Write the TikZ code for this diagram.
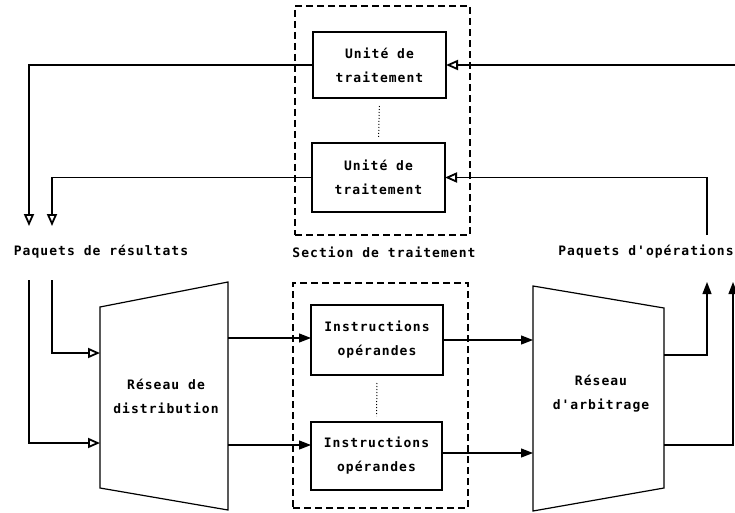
\documentclass[tikz,border=0pt]{standalone}
\usepackage{fontspec}
\newfontfamily\dm[LetterSpace=8]{DejaVu Sans Mono}
\usetikzlibrary{arrows.meta}
\begin{document}
\begin{tikzpicture}[x=1pt,y=-1pt,line width=1.2pt,
  lbl/.style={font=\dm\bfseries\fontsize{13}{24}\selectfont,align=center,inner sep=0pt},
  blk/.style={draw,lbl,outer sep=0pt},
  frame/.style={draw,dash pattern=on 7pt off 4pt,line width=1.1pt,inner sep=0pt,outer sep=0pt},
  hol/.style={-{Triangle[open,length=12pt,width=10pt,line width=1.8pt]}},
  ful/.style={-{Triangle[length=12pt,width=9pt]}},
  dots/.style={dash pattern=on 1pt off 2pt,line width=1pt,shorten >=6pt,shorten <=8pt}]
\useasboundingbox (0,0) rectangle (735,513);
% frames
\node[frame,minimum width=175pt,minimum height=229pt] (secT) at (382.5,120.5) {};
\node[frame,minimum width=175pt,minimum height=225pt] (secB) at (380.5,395.5) {};
% processing units
\node[blk,minimum width=133pt,minimum height=66pt] (u1) at (379.5,65) {Unité de\\traitement};
\node[blk,minimum width=133pt,minimum height=69pt] (u2) at (378.5,177.5) {Unité de\\traitement};
\draw[dots] (u1.south) -- (u2.north);
% instruction boxes
\node[blk,minimum width=132pt,minimum height=70pt] (i1) at (377,340) {Instructions\\opérandes};
\node[blk,minimum width=131pt,minimum height=68pt] (i2) at (376.5,456) {Instructions\\opérandes};
\draw[dots] (i1.south) -- (i2.north);
% labels
\node[lbl] (lres) at (101,252) {Paquets de résultats};
\node[lbl] (lsec) at (384,252) {Section de traitement};
\node[lbl] (lop) at (646,252) {Paquets d'opérations};
% distribution network
\draw (100,307) -- (228,282) -- (228,510) -- (100,488) -- cycle;
\node[lbl] (dist) at (166,396) {Réseau de\\distribution};
% arbitration network
\draw (533,286) -- (664,308) -- (664,488) -- (533,511) -- cycle;
\node[lbl] (arb) at (601,394) {Réseau\\d'arbitrage};
% coordinates
\coordinate (rL1) at (29,226);
\coordinate (rL2) at (52,226);
\coordinate (rS1) at (29,280);
\coordinate (rS2) at (52,280);
\coordinate (d1in) at (100,353);
\coordinate (d2in) at (100,443);
\coordinate (d1out) at (228,338);
\coordinate (d2out) at (228,445);
\coordinate (a1in) at (533,340);
\coordinate (a2in) at (533,453);
\coordinate (a1out) at (664,355);
\coordinate (a2out) at (664,445);
\coordinate (p1) at (707,282);
\coordinate (p2) at (733,282);
\coordinate (q1) at (707,235);
\coordinate (q2) at (736,65);
% connectors
\draw[hol] (u1.west) -| (rL1);
\draw[hol] (u2.west) -| (rL2);
\draw[hol] (rS2) |- (d1in);
\draw[hol] (rS1) |- (d2in);
\draw[ful] (d1out) -- (i1.west |- d1out);
\draw[ful] (d2out) -- (i2.west |- d2out);
\draw[ful] (i1.east |- a1in) -- (a1in);
\draw[ful] (i2.east |- a2in) -- (a2in);
\draw[ful] (a1out) -| (p1);
\draw[ful] (a2out) -| (p2);
\draw[hol] (q1) |- (u2.east);
\draw[hol] (q2) -- (u1.east);
\end{tikzpicture}
\end{document}
